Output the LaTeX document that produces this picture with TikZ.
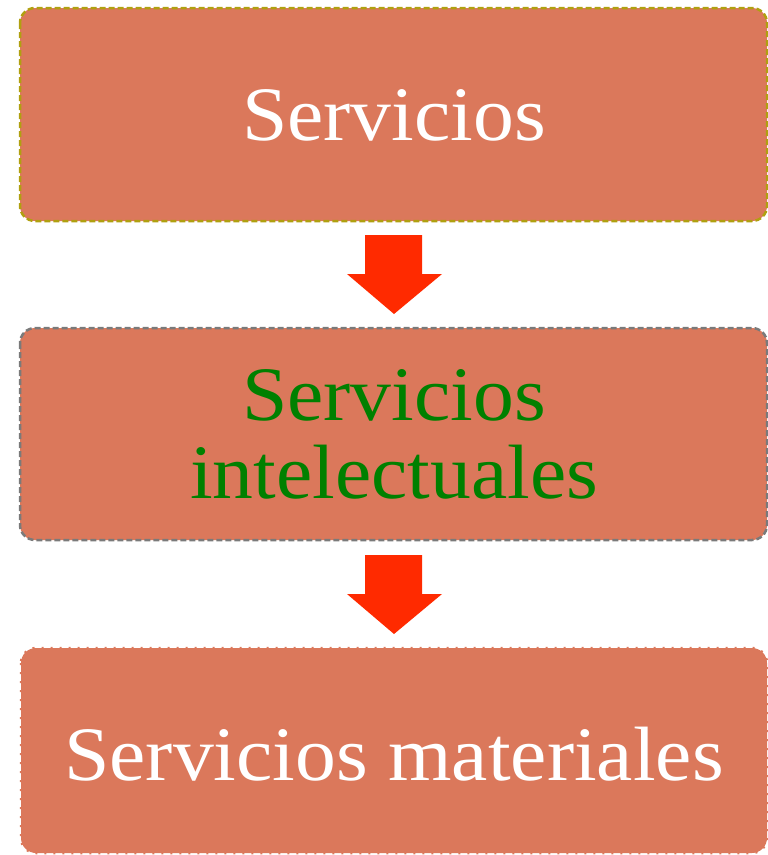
\documentclass[tikz,border=0pt]{standalone}
\usepackage{fontspec}
\setmainfont{Liberation Serif}
\definecolor{boxfill}{HTML}{DB785B}
\definecolor{oliveline}{HTML}{B0A010}
\definecolor{grayline}{HTML}{7A7A7A}
\definecolor{arrowred}{HTML}{FF2A00}
\definecolor{textgreen}{HTML}{008000}
\tikzset{
  card/.style={fill=boxfill, rounded corners=15pt, line width=2.5pt},
  blockarrow/.style={fill=arrowred, draw=none},
  bigtext/.style={font=\fontsize{77}{78}\selectfont, anchor=base, inner sep=0pt, align=center, xscale=1.06},
}
\begin{document}
\begin{tikzpicture}[x=1pt,y=-1pt]
\useasboundingbox (0,0) rectangle (768,855);
% boxes
\draw[card, draw=oliveline, dash pattern=on 6pt off 3pt] (20,8) rectangle (767,221);
\draw[card, draw=grayline, dash pattern=on 6pt off 3pt] (20,328) rectangle (767,540);
\draw[card, draw=boxfill, dash pattern=on 2pt off 7pt] (21,648) rectangle (767,853);
% texts
\node[bigtext, text=white] (t1) at (394,140) {Servicios};
\node[bigtext, text=textgreen] (t2) at (394,498) {Servicios\\intelectuales};
\node[bigtext, text=white] (t3) at (394,780) {Servicios materiales};
% arrows
\fill[blockarrow] (365,235) -- (422,235) -- (422,274) -- (442,274) -- (394,314) -- (347,274) -- (365,274) -- cycle;
\fill[blockarrow] (365,555) -- (422,555) -- (422,594) -- (442,594) -- (394,634) -- (347,594) -- (365,594) -- cycle;
\end{tikzpicture}
\end{document}
